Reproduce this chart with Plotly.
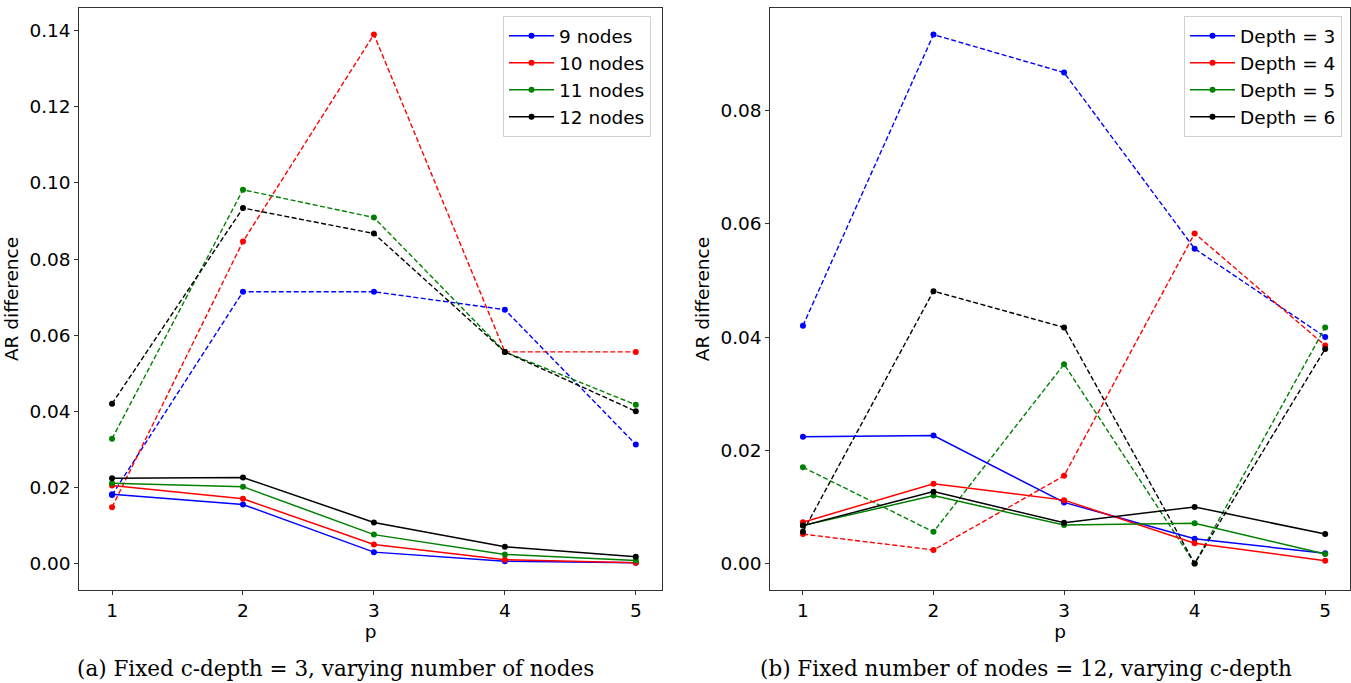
import plotly.graph_objects as go
from plotly.subplots import make_subplots

p = [1, 2, 3, 4, 5]

# Panel (a): fixed c-depth = 3, varying number of nodes
nodes_labels = ["9 nodes", "10 nodes", "11 nodes", "12 nodes"]
nodes_solid = [
    [0.0182, 0.0155, 0.0030, 0.0006, 0.0002],
    [0.0205, 0.0170, 0.0050, 0.0010, 0.0002],
    [0.0211, 0.0202, 0.0076, 0.0024, 0.0008],
    [0.0224, 0.0226, 0.0108, 0.0044, 0.0018],
]
nodes_dashed = [
    [0.0180, 0.0714, 0.0714, 0.0667, 0.0313],
    [0.0148, 0.0846, 0.1390, 0.0556, 0.0556],
    [0.0328, 0.0982, 0.0909, 0.0556, 0.0417],
    [0.0420, 0.0934, 0.0867, 0.0556, 0.0400],
]

# Panel (b): fixed number of nodes = 12, varying c-depth
depth_labels = ["Depth = 3", "Depth = 4", "Depth = 5", "Depth = 6"]
depth_solid = [
    [0.0224, 0.0226, 0.0108, 0.0044, 0.0018],
    [0.0073, 0.0141, 0.0112, 0.0036, 0.0005],
    [0.0067, 0.0120, 0.0068, 0.0071, 0.0017],
    [0.0067, 0.0127, 0.0072, 0.0100, 0.0052],
]
depth_dashed = [
    [0.0420, 0.0934, 0.0867, 0.0556, 0.0400],
    [0.0052, 0.0024, 0.0155, 0.0583, 0.0385],
    [0.0170, 0.0056, 0.0352, 0.0000, 0.0417],
    [0.0056, 0.0481, 0.0417, 0.0000, 0.0379],
]

colors = ["#0000ff", "#ff0000", "#008000", "#000000"]
y_ticks_a = [0.00, 0.02, 0.04, 0.06, 0.08, 0.10, 0.12, 0.14]
y_ticks_b = [0.00, 0.02, 0.04, 0.06, 0.08]
captions = ["(a) Fixed c-depth = 3, varying number of nodes",
            "(b) Fixed number of nodes = 12, varying c-depth"]

FS = 18.5
fig = make_subplots(rows=1, cols=2)

def add_panel(col, labels, solid, dashed, legend):
    for i in range(len(labels)):
        fig.add_trace(go.Scatter(
            x=p, y=dashed[i], mode="lines+markers",
            line=dict(color=colors[i], width=1.4, dash="5px,2.5px"),
            marker=dict(size=6, color=colors[i]),
            showlegend=False, legend=legend), row=1, col=col)
    for i in range(len(labels)):
        fig.add_trace(go.Scatter(
            x=p, y=solid[i], mode="lines+markers", name=labels[i],
            line=dict(color=colors[i], width=1.5),
            marker=dict(size=6, color=colors[i]),
            showlegend=True, legend=legend), row=1, col=col)

add_panel(1, nodes_labels, nodes_solid, nodes_dashed, "legend")
add_panel(2, depth_labels, depth_solid, depth_dashed, "legend2")

axis_common = dict(
    showline=True, linecolor="#333333", linewidth=1, mirror=True,
    ticks="outside", ticklen=4, tickcolor="#333333",
    showgrid=False, zeroline=False,
    tickfont=dict(family="DejaVu Sans", size=FS, color="black"),
)

fig.update_xaxes(**axis_common, tickvals=p, range=[0.75, 5.2],
                 title=dict(text="p", font=dict(family="DejaVu Sans", size=FS, color="black"), standoff=1))
fig.update_yaxes(**axis_common,
                 title=dict(text="AR difference", font=dict(family="DejaVu Sans", size=FS, color="black"), standoff=5))

fig.update_xaxes(domain=[79.3 / 1351, 662.0 / 1351], row=1, col=1)
fig.update_xaxes(domain=[770.3 / 1351, 1350.0 / 1351], range=[0.75, 5.19], row=1, col=2)
fig.update_yaxes(range=[-0.00695, 0.14595], tickvals=y_ticks_a, tickformat=".2f", row=1, col=1)
fig.update_yaxes(range=[-0.00467, 0.0981], tickvals=y_ticks_b, tickformat=".2f", row=1, col=2)

legend_style = dict(
    font=dict(family="DejaVu Sans", size=FS, color="black"),
    bgcolor="rgba(255,255,255,0.8)", bordercolor="#d0d0d0", borderwidth=1,
    xanchor="right", yanchor="top", y=0.986, itemwidth=45,
)
fig.update_layout(
    legend=dict(**legend_style, x=651 / 1351),
    legend2=dict(**legend_style, x=1342 / 1351),
)

for i, cx in enumerate([335 / 1351, 1026 / 1351]):
    fig.add_annotation(text=captions[i], xref="paper", yref="paper",
                       x=cx, y=-0.135, xanchor="center", yanchor="middle",
                       showarrow=False,
                       font=dict(family="DejaVu Serif", size=21.5, color="black"))

fig.update_layout(
    width=1351, height=683,
    margin=dict(l=0, r=0, t=8, b=93),
    paper_bgcolor="white", plot_bgcolor="white",
)

fig.write_html("out.html")
